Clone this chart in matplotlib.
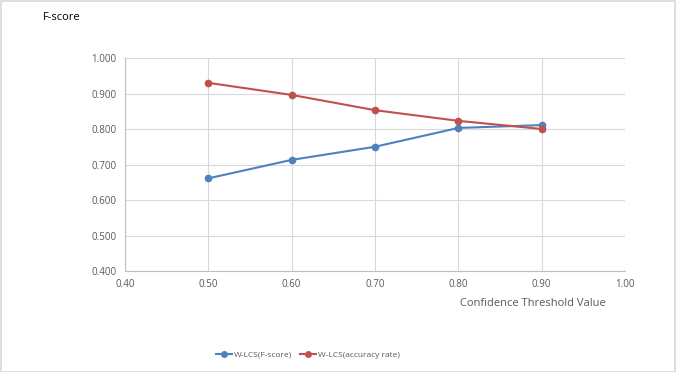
import matplotlib
matplotlib.use("Agg")
import matplotlib.pyplot as plt
from matplotlib.patches import Rectangle

thresholds = [0.50, 0.60, 0.70, 0.80, 0.90]
f_score = [0.661, 0.713, 0.750, 0.803, 0.811]
accuracy = [0.930, 0.896, 0.853, 0.823, 0.800]
x_ticks = [0.40, 0.50, 0.60, 0.70, 0.80, 0.90, 1.00]
y_ticks = [0.400, 0.500, 0.600, 0.700, 0.800, 0.900, 1.000]

plt.rcParams['font.family'] = ['Open Sans', 'DejaVu Sans']

fig = plt.figure(figsize=(6.76, 3.72), dpi=100)
ax = fig.add_axes([125/676, 1-271/372, 500/676, 213/372])

blue = '#4F81BD'
red = '#C0504D'
ax.plot(thresholds, f_score, color=blue, marker='o', markersize=4.5, lw=1.5, label='W-LCS(F-score)', zorder=3)
ax.plot(thresholds, accuracy, color=red, marker='o', markersize=4.5, lw=1.5, label='W-LCS(accuracy rate)', zorder=3)

ax.set_xlim(0.40, 1.00)
ax.set_ylim(0.400, 1.000)
ax.set_xticks(x_ticks)
ax.set_xticklabels([f"{v:.2f}" for v in x_ticks])
ax.set_yticks(y_ticks)
ax.set_yticklabels([f"{v:.3f}" for v in y_ticks])
ax.grid(True, color='#D9D9D9', lw=0.8)
ax.set_axisbelow(True)
for s in ['top', 'right']:
    ax.spines[s].set_visible(False)
for s in ['left', 'bottom']:
    ax.spines[s].set_color('#BFBFBF')
    ax.spines[s].set_linewidth(0.8)
ax.tick_params(length=0, labelsize=7, colors='#595959', pad=6)

fig.text(43/676, 1-17/372, 'F-score', fontsize=8, color='black', va='center', ha='left')
fig.text(533/676, 1-304/372, 'Confidence Threshold Value', fontsize=8, color='#595959', va='center', ha='center')

leg = fig.legend(loc='center', bbox_to_anchor=(308/676, 1-355/372), ncol=2, frameon=False,
                 fontsize=6, handlelength=1.9, columnspacing=1.0, handletextpad=0.25)
for t in leg.get_texts():
    t.set_color('#595959')
for h in leg.legend_handles:
    h.set_markersize(4)

fig.patches.append(Rectangle((0.5/676, 0.5/372), 1-1.5/676, 1-1.5/372, transform=fig.transFigure,
                             fill=False, edgecolor='#D9D9D9', lw=1.2))

fig.savefig('out.png', dpi=100)
